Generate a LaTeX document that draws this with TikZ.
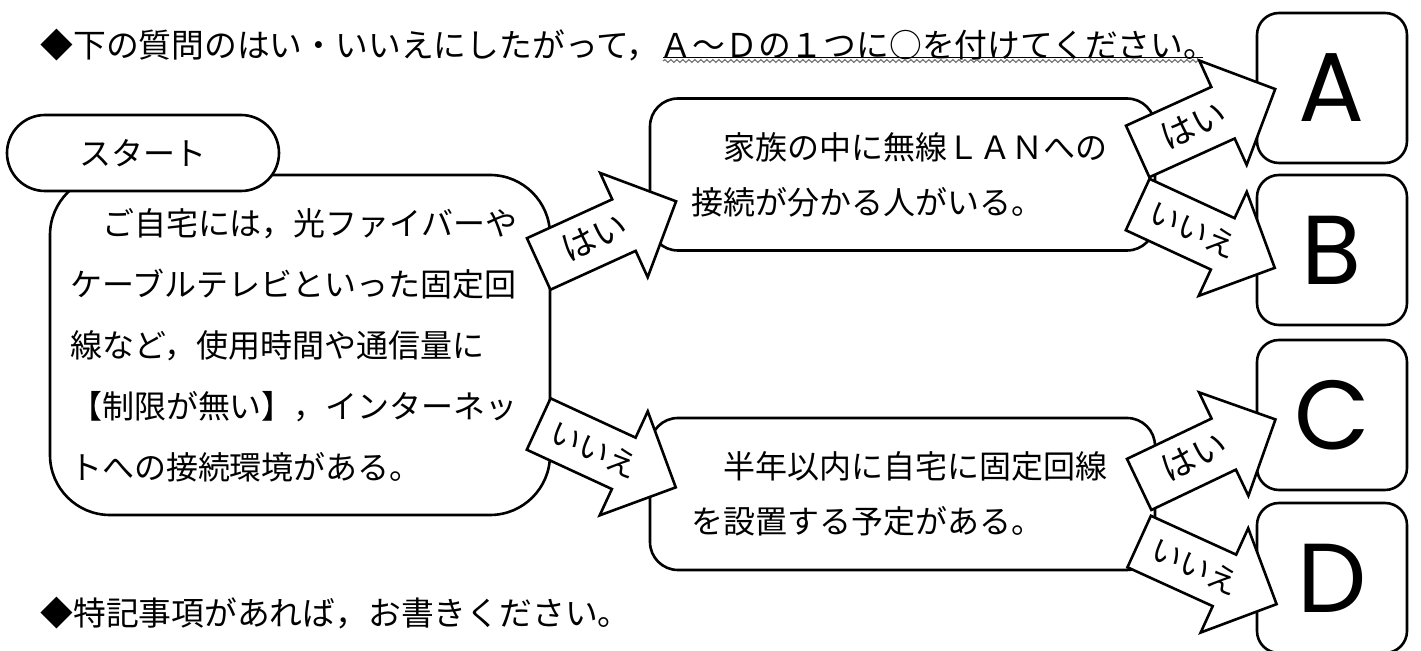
\documentclass[tikz,border=0pt]{standalone}
\usepackage{fontspec}
\setmainfont{Noto Sans CJK JP}
\newfontfamily\letterfont{Poppins}
\usepackage{tikz}
\usetikzlibrary{calc}
\usetikzlibrary{shapes.arrows}
\usetikzlibrary{decorations.pathmorphing}
\definecolor{wavegray}{RGB}{120,120,120}

\tikzset{
  lead/.style      ={anchor=west, inner sep=0pt, font=\fontsize{16.4pt}{16.4pt}\selectfont},
  startpill/.style ={draw, fill=white, line width=1.3pt, rounded corners=19pt,
                     minimum width=136pt, minimum height=38pt, font=\fontsize{16pt}{16pt}\selectfont},
  homebox/.style   ={draw, fill=white, line width=1.3pt, rounded corners=30pt,
                     minimum width=250pt, minimum height=170pt, text width=230pt, align=left,
                     font=\fontsize{16pt}{30.5pt}\selectfont},
  askbox/.style    ={draw, fill=white, line width=1.3pt, rounded corners=14pt,
                     minimum width=252.5pt, minimum height=76pt, text width=211.5pt, align=left,
                     font=\fontsize{16pt}{27.5pt}\selectfont},
  answerbox/.style ={draw, fill=white, line width=1.3pt, rounded corners=11pt,
                     minimum width=75pt, minimum height=75pt, font=\letterfont\fontsize{49pt}{49pt}\selectfont},
  yesno/.style     ={draw, fill=white, line width=1.3pt, single arrow, anchor=tail,
                     single arrow head extend=14.5pt, single arrow tip angle=90,
                     minimum height=75.5pt, text height=13pt, text depth=2pt, inner ysep=6pt,
                     inner xsep=1pt, font=\fontsize{17pt}{17pt}\selectfont},
  nolabel/.style   ={font=\fontsize{15.5pt}{15.5pt}\selectfont}
}

\begin{document}
\begin{tikzpicture}[x=0.5pt, y=-0.5pt]
        \useasboundingbox (0,0) rectangle (1421,651);
        \fill[white] (0,0) rectangle (1421,651);

        % notes
        \node[lead] (title) at (40,45)  {◆下の質問のはい・いいえにしたがって，Ａ～Ｄの１つに○を付けてください。};
        \draw[line width=0.45pt] (663,57) -- (1203,57);
        \draw[wavegray, line width=0.6pt, decorate, decoration={snake, amplitude=0.7pt, segment length=3pt}]
                                         (663,61) -- (1203,61);
        \node[lead] (memo)  at (40,613) {◆特記事項があれば，お書きください。};

        % questions
        \node[homebox]   (home)  at (300,345)   {　ご自宅には，光ファイバーや\\ケーブルテレビといった固定回\\線など，使用時間や通信量に\\【制限が無い】，インターネッ\\トへの接続環境がある。};
        \node[startpill] (start) at (143,153)   {スタート};
        \node[askbox]    (lan)   at (902.5,174.5) {　家族の中に無線ＬＡＮへの\\接続が分かる人がいる。};
        \node[askbox]    (line)  at (902.5,494)   {　半年以内に自宅に固定回線\\を設置する予定がある。};

        % answers
        \node[answerbox] (A) at (1332,88)  {A};
        \node[answerbox] (B) at (1332,250) {B};
        \node[answerbox] (C) at (1332,415) {C};
        \node[answerbox] (D) at (1332,578) {D};

        % yes / no arrows
        \node[yesno, rotate=24.5]           (yes1) at (537.5,264.5) {はい};
        \node[yesno, nolabel, rotate=-24.8] (no1)  at (537.5,423.5) {いいえ};
        \node[yesno, rotate=24.4]           (yesA) at (1136.5,152)  {はい};
        \node[yesno, nolabel, rotate=-24.8] (noB)  at (1136.5,204)  {いいえ};
        \node[yesno, rotate=25.5]           (yesC) at (1138,485)    {はい};
        \node[yesno, nolabel, rotate=-24.5] (noD)  at (1138,541)    {いいえ};
\end{tikzpicture}
\end{document}
